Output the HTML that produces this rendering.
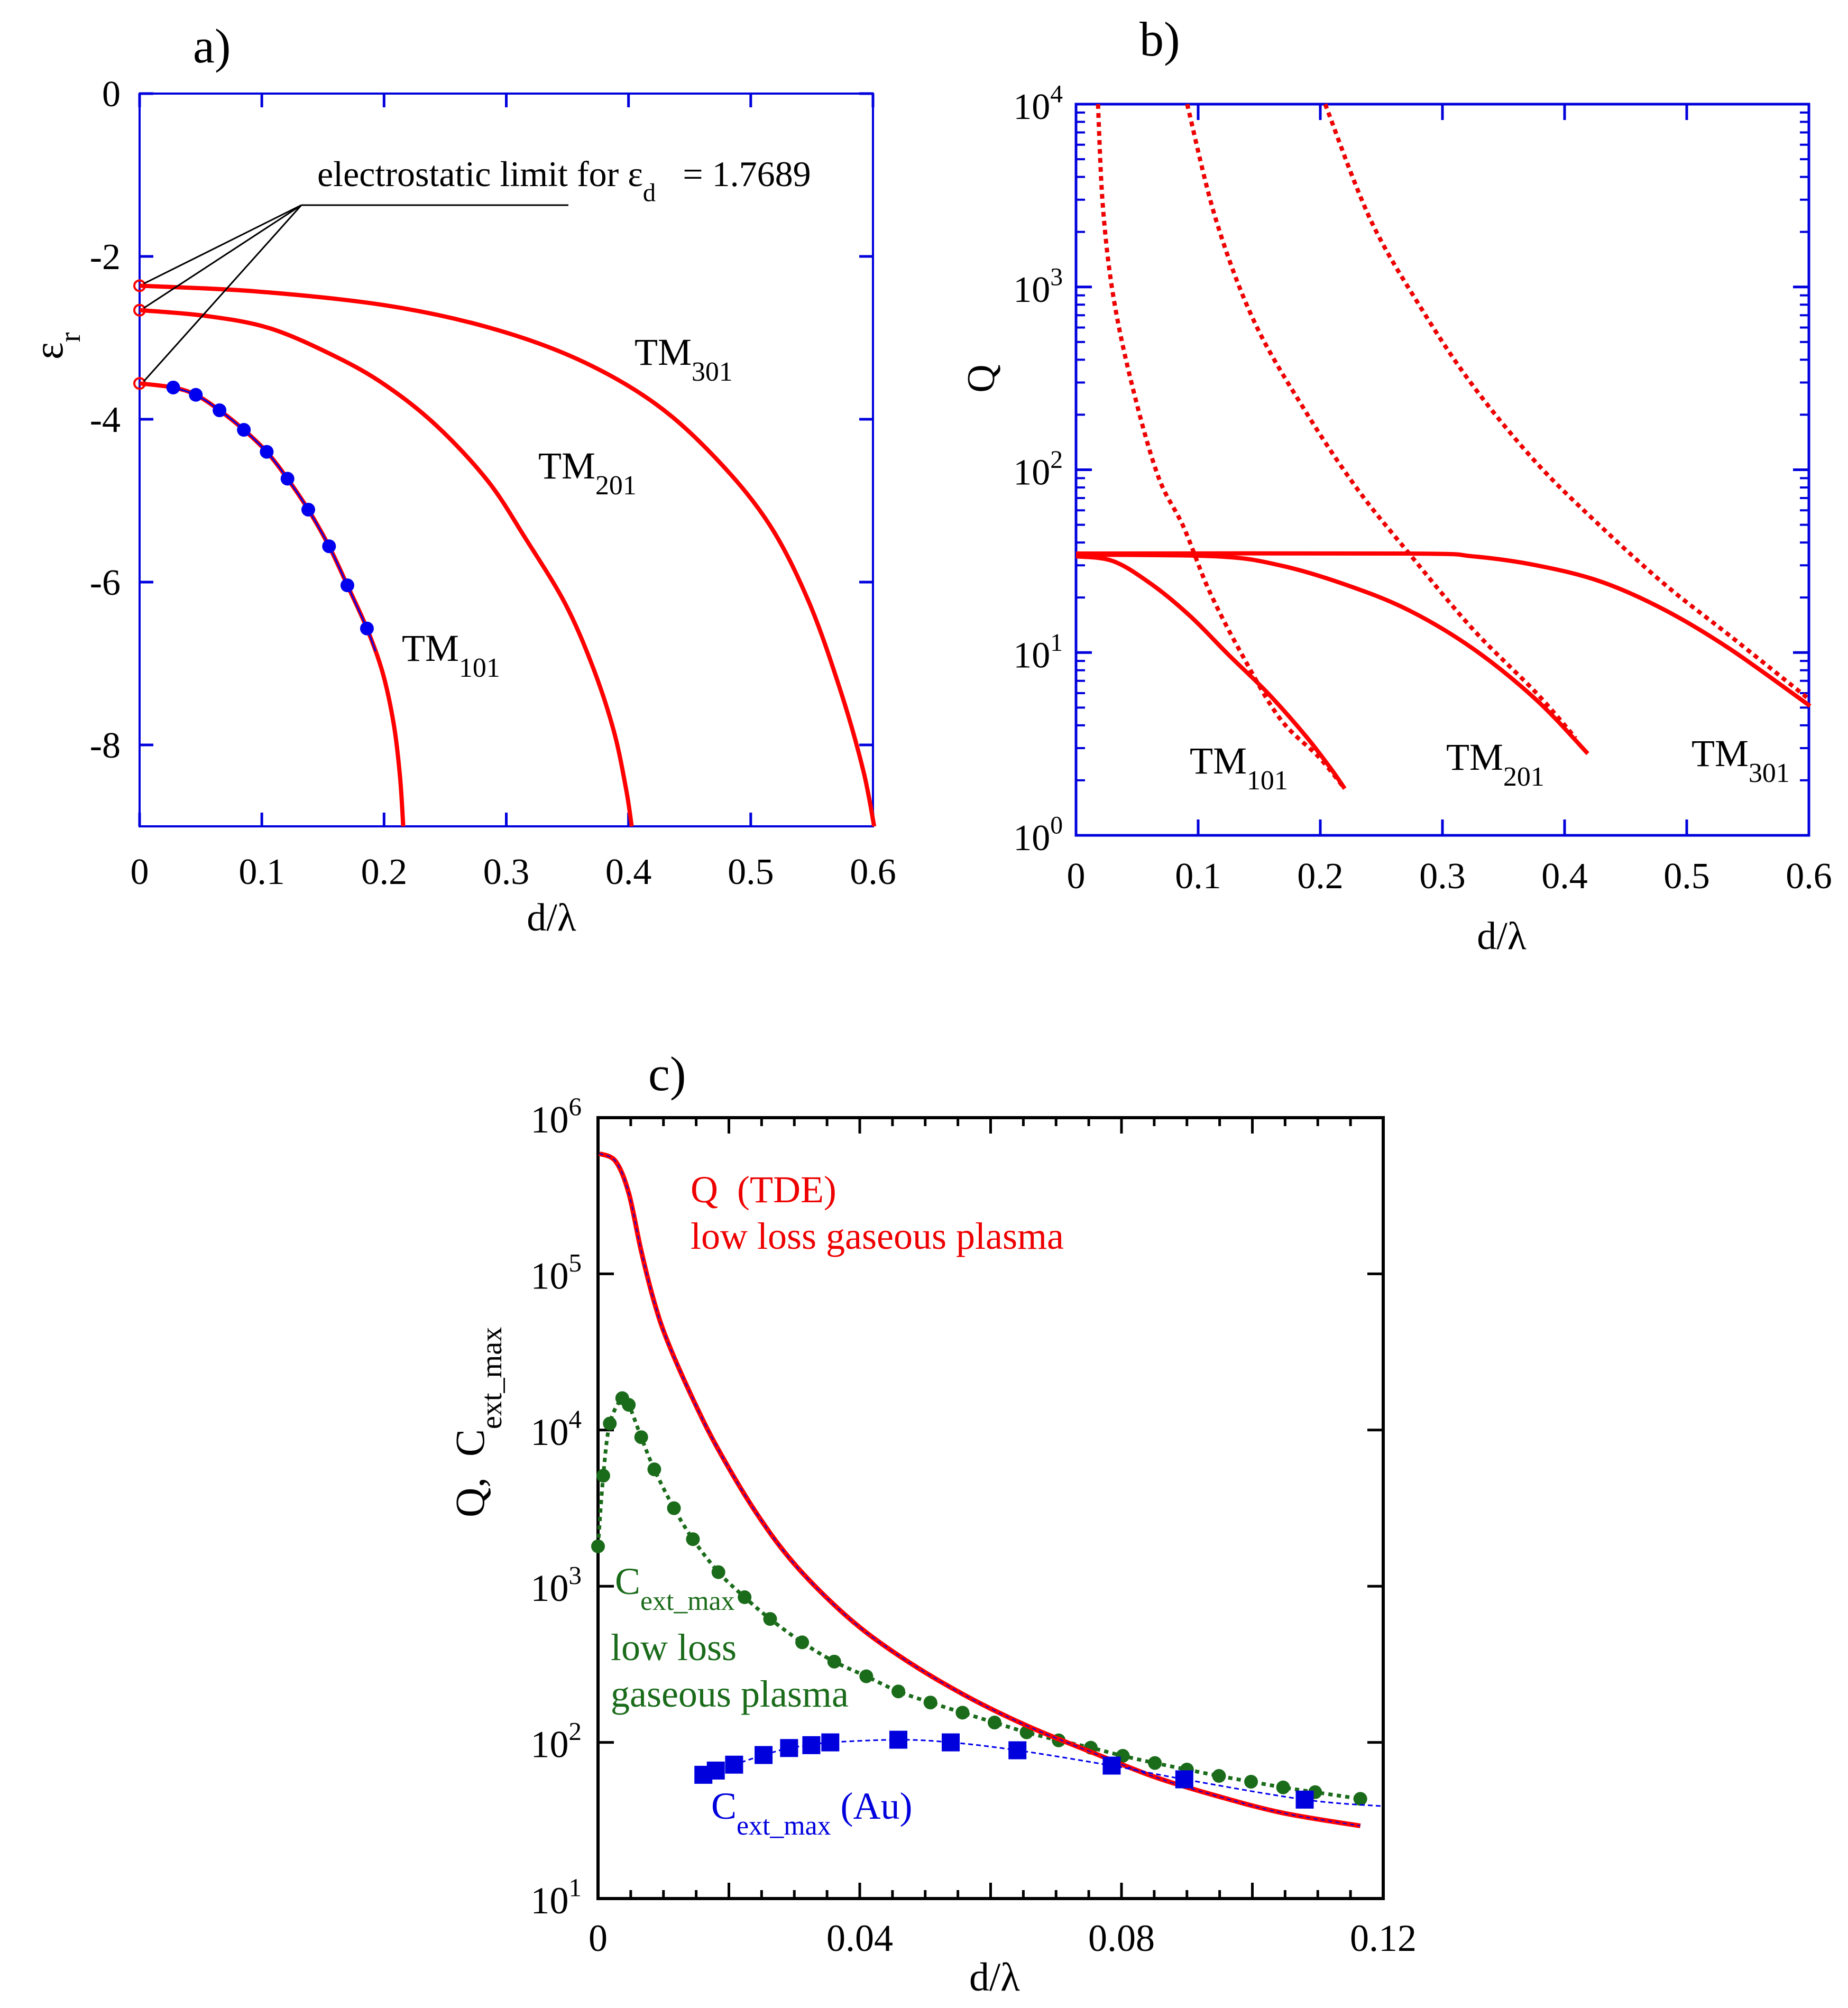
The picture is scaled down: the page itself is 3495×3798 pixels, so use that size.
<!DOCTYPE html>
<html><head><meta charset="utf-8"><style>
html,body{margin:0;padding:0;background:#fff}
svg{display:block}
text{font-family:"Liberation Serif",serif}
</style></head><body>
<svg id="fig" xmlns="http://www.w3.org/2000/svg" width="3495" height="3798" viewBox="0 0 3495 3798" font-family="Liberation Serif, serif">
<rect width="3495" height="3798" fill="#fff"/>
</svg>
<script>
// ---------- Panel a data ----------
const aTM101d = [0,0.0275,0.046,0.0654,0.0853,0.104,0.121,0.138,0.155,0.170,0.186,0.199,0.208,0.213,0.2157];
const aTM101e = [-3.56,-3.61,-3.70,-3.89,-4.13,-4.40,-4.73,-5.11,-5.56,-6.04,-6.57,-7.12,-7.75,-8.38,-9.0];
const aDotsD = [0.0275,0.046,0.0654,0.0853,0.104,0.121,0.138,0.155,0.170,0.186];
const aDotsE = [-3.61,-3.70,-3.89,-4.13,-4.40,-4.73,-5.11,-5.56,-6.04,-6.57];
const aTM201d = [0,0.0537,0.106,0.159,0.201,0.243,0.285,0.316,0.348,0.371,0.388,0.398,0.4026];
const aTM201e = [-2.66,-2.73,-2.88,-3.22,-3.58,-4.08,-4.76,-5.47,-6.26,-7.05,-7.83,-8.54,-9.0];
const aTM301d = [0,0.0957,0.201,0.285,0.358,0.422,0.474,0.516,0.548,0.574,0.592,0.601];
const aTM301e = [-2.36,-2.43,-2.60,-2.87,-3.26,-3.81,-4.52,-5.31,-6.26,-7.36,-8.31,-9.0];
const aLimits = [-2.36,-2.66,-3.56];
const aXTicks = [0,0.1,0.2,0.3,0.4,0.5,0.6];
const aYTicks = [0,-2,-4,-6,-8];
// ---------- Panel b data ----------
const b101sD = [0,0.0305,0.062,0.0936,0.125,0.157,0.188,0.209,0.220];
const b101sQ = [33.6,31.6,23.6,15.8,9.7,6.0,3.5,2.3,1.8];
const b201sD = [0,0.1145,0.167,0.22,0.272,0.325,0.377,0.419];
const b201sQ = [34.3,33.6,30,23.6,17.1,10.5,5.5,2.8];
const b301sD = [0,0.272,0.325,0.377,0.43,0.482,0.535,0.601];
const b301sQ = [34.8,34.8,33.6,30,24.4,17.1,10.5,5.1];
const b101dD = [0.018,0.022,0.0305,0.046,0.067,0.088,0.109,0.136,0.167,0.199,0.220];
const b101dQ = [10000,2760,890,288,93,48.7,21.8,9.7,4.35,2.67,1.8];
const b201dD = [0.091,0.1145,0.146,0.188,0.230,0.272,0.325,0.377,0.409];
const b201dQ = [10000,2340,644,208,79,35.3,13.4,6.0,3.4];
const b301dD = [0.204,0.241,0.283,0.325,0.377,0.43,0.482,0.535,0.601];
const b301dQ = [10000,2340,757,288,109,48.7,23.6,12.4,5.5];
const bXTicks = [0,0.1,0.2,0.3,0.4,0.5,0.6];
const bYExp = [0,1,2,3,4];
// ---------- Panel c data ----------
const cQd = [0.0002,0.0027,0.0047,0.0066,0.0086,0.0106,0.0145,0.0184,0.0243,0.0302,0.0381,0.0459,0.0557,0.0655,0.0753,0.0851,0.0949,0.1047,0.1165];
const cQv = [589000,525000,328000,140000,65800,37200,15800,7480,2900,1360,637,361,204,128,87,60,45,35.3,29.2];
const cGd = [0,0.0008,0.0018,0.0037,0.0047,0.0066,0.0086,0.0116,0.0145,0.0184,0.0224,0.0263,0.0312,0.0361,0.041,0.0459,0.0508,0.0557,0.0606,0.0655,0.0704,0.0753,0.0802,0.0851,0.09,0.0949,0.0998,0.1047,0.1096,0.1165];
const cGv = [1800,5100,11000,16000,14500,9000,5600,3160,2000,1230,850,617,437,329,265,212,180,155,134,116,103,92.5,82,73.8,67,61,56,51.5,48,43.5];
const cBd = [0.0161,0.018,0.0208,0.0253,0.0292,0.0326,0.0355,0.0459,0.0539,0.0641,0.0785,0.0896,0.108];
const cBv = [62,66,72,83,92,96,100,104,100,89,71,58,43];
const cBlineD = [0.108,0.12];
const cBlineV = [43,39];
const cXLabels = [0,0.04,0.08,0.12];
const cYExp = [1,2,3,4,5,6];

const NS='http://www.w3.org/2000/svg';
const svg=document.getElementById('fig');
function el(tag,attrs,parent){const e=document.createElementNS(NS,tag);for(const k in attrs)e.setAttribute(k,attrs[k]);(parent||svg).appendChild(e);return e;}
function grp(name){const g=el('g',{});return g;}
function pathFrom(xs,ys,fx,fy){return xs.map((x,i)=>(i?'L':'M')+fx(x).toFixed(1)+' '+fy(ys[i]).toFixed(1)).join(' ');}
function smoothPath(xs,ys,fx,fy){
 const P=xs.map((x,i)=>[fx(x),fy(ys[i])]);
 if(P.length<3)return pathFrom(xs,ys,fx,fy);
 let d='M'+P[0][0].toFixed(1)+' '+P[0][1].toFixed(1);
 for(let i=0;i<P.length-1;i++){const p0=P[Math.max(0,i-1)],p1=P[i],p2=P[i+1],p3=P[Math.min(P.length-1,i+2)];
  const c1=[p1[0]+(p2[0]-p0[0])/6,p1[1]+(p2[1]-p0[1])/6],c2=[p2[0]-(p3[0]-p1[0])/6,p2[1]-(p3[1]-p1[1])/6];
  d+=' C'+c1[0].toFixed(1)+' '+c1[1].toFixed(1)+' '+c2[0].toFixed(1)+' '+c2[1].toFixed(1)+' '+p2[0].toFixed(1)+' '+p2[1].toFixed(1);}
 return d;}
function txt(parent,x,y,s,size,fill,anchor,name){const t=el('text',{x:x,y:y,'font-size':size,fill:fill||'#000','text-anchor':anchor||'start','font-family':'Liberation Serif, serif'},parent);t.textContent=s;return t;}
function supTxt(parent,x,y,base,sup,size,anchor,name){const t=el('text',{x:x,y:y,'font-size':size,'text-anchor':anchor||'end','font-family':'Liberation Serif, serif'},parent);
 const s1=el('tspan',{},t);s1.textContent=base;const s2=el('tspan',{dy:-size*0.45,'font-size':size*0.68},t);s2.textContent=sup;return t;}
function subTxt(parent,x,y,base,sub,size,fill,name,extra){const t=el('text',{x:x,y:y,'font-size':size,fill:fill||'#000','font-family':'Liberation Serif, serif'},parent);
 const s1=el('tspan',{},t);s1.textContent=base;const s2=el('tspan',{dy:size*0.42,'font-size':size*0.72},t);s2.textContent=sub;
 if(extra){const s3=el('tspan',{dy:-size*0.42},t);s3.textContent=extra;}return t;}

// ================= Panel a =================
(function(){
 const L=264,R=1651,T=177,B=1563;
 const x=d=>L+(d/0.6)*(R-L), y=e=>T+(-e/9)*(B-T);
 const g=grp('panel-a');
 txt(g,365,118,'a)',92,'#000','start','panel-a-label');
 const ax=el('rect',{x:L,y:T,width:R-L,height:B-T,fill:'none',stroke:'#0000dd','stroke-width':4},g);
 
 aXTicks.forEach(v=>{const X=x(v);
  el('line',{x1:X,y1:B,x2:X,y2:B-26,stroke:'#0000dd','stroke-width':5},g);
  el('line',{x1:X,y1:T,x2:X,y2:T+26,stroke:'#0000dd','stroke-width':5},g);
  txt(g,X,1672,String(v),70,'#000','middle','x-tick-label-a');});
 aYTicks.forEach(v=>{const Y=y(v);
  el('line',{x1:L,y1:Y,x2:L+26,y2:Y,stroke:'#0000dd','stroke-width':5},g);
  el('line',{x1:R,y1:Y,x2:R-26,y2:Y,stroke:'#0000dd','stroke-width':5},g);
  txt(g,228,Y+24,String(v),70,'#000','end','y-tick-label-a');});
 txt(g,1043,1760,'d/λ',74,'#000','middle','x-axis-title-a');
 const yt=subTxt(g,0,0,'ε','r',78,'#000','y-axis-title-a');yt.setAttribute('transform','translate(118,680) rotate(-90)');
 [[aTM101d,aTM101e,'curve-tm101'],[aTM201d,aTM201e,'curve-tm201'],[aTM301d,aTM301e,'curve-tm301']].forEach(([dd,ee,n])=>{
  const p=el('path',{d:smoothPath(dd,ee,x,y),fill:'none',stroke:'#ff0000','stroke-width':8,'stroke-linejoin':'round'},g);
  });
 const bl=el('path',{d:smoothPath(aDotsD.concat([0.193]),aDotsE.concat([-6.85]),x,y),fill:'none',stroke:'#0000ee','stroke-width':3},g);
 
 aDotsD.forEach((d,i)=>{const c=el('circle',{cx:x(d),cy:y(aDotsE[i]),r:13,fill:'#0000ee'},g);
  });
 aLimits.forEach(e=>{const c=el('circle',{cx:L,cy:y(e),r:10,fill:'none',stroke:'#ff0000','stroke-width':4},g);
  
  el('line',{x1:570,y1:388,x2:L+8,y2:y(e)-4,stroke:'#000','stroke-width':3},g);});
 el('line',{x1:570,y1:388,x2:1075,y2:388,stroke:'#000','stroke-width':3},g);
 subTxt(g,600,352,'electrostatic limit for ε','d',68,'#000','annotation-electrostatic-limit','\u00a0\u00a0\u00a0= 1.7689');
 subTxt(g,1200,690,'TM','301',72,'#000','label-tm301');
 subTxt(g,1018,905,'TM','201',72,'#000','label-tm201');
 subTxt(g,760,1250,'TM','101',72,'#000','label-tm101');
})();

// ================= Panel b =================
(function(){
 const L=2035,R=3421,T=197,B=1580;
 const x=d=>L+(d/0.6)*(R-L), y=q=>B-(Math.log10(q)/4)*(B-T);
 const g=grp('panel-b');
 txt(g,2155,105,'b)',92,'#000','start','panel-b-label');
 const ax=el('rect',{x:L,y:T,width:R-L,height:B-T,fill:'none',stroke:'#0000dd','stroke-width':5},g);
 
 bXTicks.forEach(v=>{const X=x(v);
  el('line',{x1:X,y1:B,x2:X,y2:B-30,stroke:'#0000dd','stroke-width':5},g);
  el('line',{x1:X,y1:T,x2:X,y2:T+30,stroke:'#0000dd','stroke-width':5},g);
  txt(g,X,1680,String(v),70,'#000','middle','x-tick-label-b');});
 bYExp.forEach(p=>{const Y=y(Math.pow(10,p));
  el('line',{x1:L,y1:Y,x2:L+30,y2:Y,stroke:'#0000dd','stroke-width':5},g);
  el('line',{x1:R,y1:Y,x2:R-30,y2:Y,stroke:'#0000dd','stroke-width':5},g);
  supTxt(g,2010,Y+28,'10',String(p),70,'end','y-tick-label-b');
  if(p<4){for(let m=2;m<10;m++){const Ym=y(m*Math.pow(10,p));
   el('line',{x1:L,y1:Ym,x2:L+17,y2:Ym,stroke:'#0000dd','stroke-width':4},g);
   el('line',{x1:R,y1:Ym,x2:R-17,y2:Ym,stroke:'#0000dd','stroke-width':4},g);}}});
 txt(g,2840,1795,'d/λ',74,'#000','middle','x-axis-title-b');
 const yt=txt(g,0,0,'Q',74,'#000','middle','y-axis-title-b');yt.setAttribute('transform','translate(1880,716) rotate(-90)');
 [[b101sD,b101sQ,'solid-tm101'],[b201sD,b201sQ,'solid-tm201'],[b301sD,b301sQ,'solid-tm301']].forEach(([dd,qq,n])=>{
  const p=el('path',{d:smoothPath(dd,qq,x,y),fill:'none',stroke:'#ff0000','stroke-width':8,'stroke-linejoin':'round'},g);
  });
 [[b101dD,b101dQ,'dotted-tm101'],[b201dD,b201dQ,'dotted-tm201'],[b301dD,b301dQ,'dotted-tm301']].forEach(([dd,qq,n])=>{
  const p=el('path',{d:smoothPath(dd,qq,x,y),fill:'none',stroke:'#ee0000','stroke-width':8,'stroke-dasharray':'9 8'},g);
  });
 subTxt(g,2250,1463,'TM','101',72,'#000','label-b-tm101');
 subTxt(g,2735,1456,'TM','201',72,'#000','label-b-tm201');
 subTxt(g,3199,1449,'TM','301',72,'#000','label-b-tm301');
})();

// ================= Panel c =================
(function(){
 const L=1131,R=2616,T=2114,B=3591;
 const x=d=>L+(d/0.12)*(R-L), y=v=>B-((Math.log10(v)-1)/5)*(B-T);
 const g=grp('panel-c');
 txt(g,1226,2062,'c)',92,'#000','start','panel-c-label');
 const ax=el('rect',{x:L,y:T,width:R-L,height:B-T,fill:'none',stroke:'#000','stroke-width':6},g);
 
 for(let i=0;i<=24;i++){const d=i*0.005,X=x(d),len=(i%4===0)?30:16;
  el('line',{x1:X,y1:B,x2:X,y2:B-len,stroke:'#000','stroke-width':5},g);
  el('line',{x1:X,y1:T,x2:X,y2:T+len,stroke:'#000','stroke-width':5},g);}
 cXLabels.forEach(v=>txt(g,x(v),3690,String(v),72,'#000','middle','x-tick-label-c'));
 cYExp.forEach(p=>{const Y=y(Math.pow(10,p));
  el('line',{x1:L,y1:Y,x2:L+30,y2:Y,stroke:'#000','stroke-width':5},g);
  el('line',{x1:R,y1:Y,x2:R-30,y2:Y,stroke:'#000','stroke-width':5},g);
  supTxt(g,1100,Y+28,'10',String(p),72,'end','y-tick-label-c');});
 txt(g,1881,3765,'d/λ',76,'#000','middle','x-axis-title-c');
 const yt=subTxt(g,0,0,'Q,\u00a0\u00a0C','ext_max',78,'#000','y-axis-title-c');yt.setAttribute('transform','translate(915,2870) rotate(-90)');
 const gp=el('path',{d:smoothPath(cGd,cGv,x,y),fill:'none',stroke:'#1a6b1a','stroke-width':7,'stroke-dasharray':'8 8'},g);
 
 cGd.forEach((d,i)=>{const c=el('circle',{cx:x(d),cy:y(cGv[i]),r:13,fill:'#1a6b1a'},g);
  });
 const rp=el('path',{d:smoothPath(cQd,cQv,x,y),fill:'none',stroke:'#ff0000','stroke-width':9,'stroke-linejoin':'round'},g);
 
 const rb=el('path',{d:smoothPath(cQd,cQv,x,y),fill:'none',stroke:'#0000ee','stroke-width':2,'stroke-dasharray':'8 6'},g);
 
 const bp=el('path',{d:smoothPath(cBd.concat(cBlineD.slice(1)),cBv.concat(cBlineV.slice(1)),x,y),fill:'none',stroke:'#0000ee','stroke-width':3,'stroke-dasharray':'9 6'},g);
 
 cBd.forEach((d,i)=>{const r=el('rect',{x:x(d)-17,y:y(cBv[i])-17,width:34,height:34,fill:'#0000dd'},g);
  });
 txt(g,1306,2274,'Q\u00a0\u00a0(TDE)',72,'#ee0000','start','label-q-tde');
 txt(g,1306,2362,'low loss gaseous plasma',72,'#ee0000','start','label-q-plasma');
 subTxt(g,1163,3015,'C','ext_max',72,'#1a6b1a','label-green-cext');
 txt(g,1155,3140,'low loss',72,'#1a6b1a','start','label-green-lowloss');
 txt(g,1155,3228,'gaseous plasma',72,'#1a6b1a','start','label-green-plasma');
 subTxt(g,1345,3440,'C','ext_max',72,'#0000dd','label-blue-cext','\u00a0(Au)');
})();
</script>
</body></html>
